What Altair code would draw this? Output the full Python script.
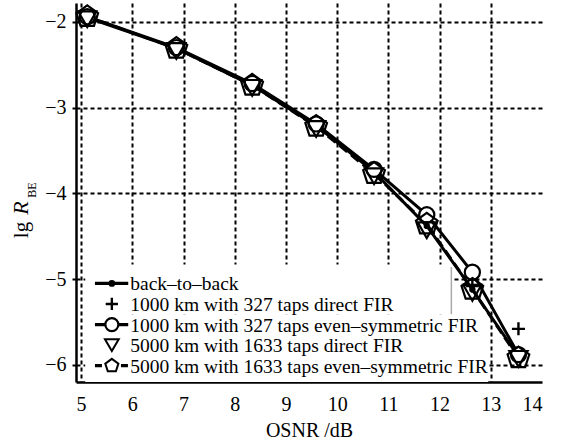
import altair as alt
import pandas as pd

# ---- data ----
osnr = [5.12, 6.86, 8.34, 9.59, 10.72, 11.75, 12.64, 13.54]
b2b = [-1.95, -2.31, -2.74, -3.21, -3.75, -4.38, -5.12, -5.90]
fir327_direct = [-1.95, -2.30, -2.73, -3.20, -3.73, -4.27, -5.08, -5.58]
fir327_sym = [-1.94, -2.30, -2.72, -3.19, -3.72, -4.25, -4.92, -5.88]
fir1633_direct = [-1.97, -2.34, -2.77, -3.25, -3.80, -4.43, -5.16, -5.93]
fir1633_sym = [-1.94, -2.31, -2.74, -3.22, -3.77, -4.36, -5.12, -5.92]

series_names = [
    "back–to–back",
    "1000 km with 327 taps direct FIR",
    "1000 km with 327 taps even–symmetric FIR",
    "5000 km with 1633 taps direct FIR",
    "5000 km with 1633 taps even–symmetric FIR",
]
x_ticks = [5, 6, 7, 8, 9, 10, 11, 12, 13, 14]
y_ticks = [-6, -5.5, -5, -4.5, -4, -3.5, -3, -2.5, -2]

# legend layout (data units)
legend_rows = [-5.05, -5.29, -5.53, -5.77, -6.01]
legend_sym_x = 5.6
legend_line_x = [5.27, 5.92]
legend_text_x = 5.96

FONT = "Liberation Serif"
PENTAGON = "M0,-1L0.951,-0.309L0.588,0.809L-0.588,0.809L-0.951,-0.309Z"
PLUS = "M-1,0L1,0M0,-1L0,1"

xs = alt.Scale(domain=[4.9, 14], nice=False, zero=False)
ys = alt.Scale(domain=[-6.2, -1.78], nice=False, zero=False)

def df_of(vals):
    return pd.DataFrame({"x": osnr, "y": vals})

X = alt.X("x:Q", scale=xs, axis=alt.Axis(
    values=x_ticks, title="OSNR /dB", grid=True, ticks=False,
    gridDash=[4, 3], gridColor="black", gridWidth=2,
    gridOpacity={"condition": {"test": "datum.value >= 14", "value": 0}, "value": 1},
    labelFontSize=20, labelPadding=12, titleFontSize=20, titlePadding=6,
    titleFontWeight="normal", domainWidth=2.5, domainColor="black",
    labelColor="black", titleColor="black", format="d"))
Y = alt.Y("y:Q", scale=ys, axis=alt.Axis(
    values=y_ticks, title=None, grid=True, gridDash=[4, 3], gridColor="black",
    gridWidth=2, tickSize=4, tickWidth=2, tickColor="black",
    labelExpr="datum.value % 1 === 0 ? datum.label : ''", format="d",
    labelFontSize=20, labelPadding=6, domainWidth=2.5, domainColor="black",
    labelColor="black"))

base_axes = alt.Chart(df_of(b2b)).mark_point(opacity=0).encode(x=X, y=Y)

# legend backdrop
box_df = pd.DataFrame({"x": [5.08, 5.08], "x2": [12.23, 12.95],
                       "y": [-4.83, -5.41], "y2": [-5.41, -6.2]})
box = alt.Chart(box_df).mark_rect(color="white").encode(
    x=alt.X("x:Q", scale=xs), x2="x2:Q", y=alt.Y("y:Q", scale=ys), y2="y2:Q")
edge_df = pd.DataFrame({"x": [12.23], "y": [-4.86], "y2": [-5.41]})
edge = alt.Chart(edge_df).mark_rule(color="#aaaaaa", strokeWidth=1.5).encode(
    x=alt.X("x:Q", scale=xs), y=alt.Y("y:Q", scale=ys), y2="y2:Q")

def enc(c):
    return c.encode(x=alt.X("x:Q", scale=xs), y=alt.Y("y:Q", scale=ys))

l_b2b = enc(alt.Chart(df_of(b2b)).mark_line(color="black", strokeWidth=3))
l_sym327 = enc(alt.Chart(df_of(fir327_sym)).mark_line(color="black", strokeWidth=3))
l_sym1633 = enc(alt.Chart(df_of(fir1633_sym)).mark_line(
    color="black", strokeWidth=3, strokeDash=[10, 5]))

p_b2b = enc(alt.Chart(df_of(b2b)).mark_point(
    shape="circle", filled=True, color="black", size=40, opacity=1))
p_d327 = enc(alt.Chart(df_of(fir327_direct)).mark_point(
    shape=PLUS, filled=False, color="black", size=170, strokeWidth=2.4, opacity=1))
p_s327 = enc(alt.Chart(df_of(fir327_sym)).mark_point(
    shape="circle", filled=False, color="black", size=230, strokeWidth=2.2,
    fill="white", fillOpacity=1, opacity=1))
p_d1633 = enc(alt.Chart(df_of(fir1633_direct)).mark_point(
    shape="triangle-down", filled=False, color="black", size=330, strokeWidth=2.2,
    opacity=1))
p_s1633 = enc(alt.Chart(df_of(fir1633_sym)).mark_point(
    shape=PENTAGON, filled=False, color="black", size=520, strokeWidth=2.2, opacity=1))

# ---- legend ----
leg_text_df = pd.DataFrame({"x": [legend_text_x] * 5, "y": legend_rows, "t": series_names})
leg_text = alt.Chart(leg_text_df).mark_text(
    align="left", baseline="middle", font=FONT, fontSize=19.5, color="black", dy=1).encode(
    x=alt.X("x:Q", scale=xs), y=alt.Y("y:Q", scale=ys), text="t:N")

def leg_line(row, dash=None):
    d = pd.DataFrame({"x": [legend_line_x[0]], "x2": [legend_line_x[1]], "y": [legend_rows[row]]})
    kw = dict(color="black", strokeWidth=3.2)
    if dash:
        kw["strokeDash"] = dash
    return alt.Chart(d).mark_rule(**kw).encode(
        x=alt.X("x:Q", scale=xs), x2="x2:Q", y=alt.Y("y:Q", scale=ys))

def leg_sym(row, **kw):
    d = pd.DataFrame({"x": [legend_sym_x], "y": [legend_rows[row]]})
    return alt.Chart(d).mark_point(color="black", opacity=1, **kw).encode(
        x=alt.X("x:Q", scale=xs), y=alt.Y("y:Q", scale=ys))

legend_layers = [
    leg_line(0), leg_sym(0, shape="circle", filled=True, size=45),
    leg_sym(1, shape=PLUS, filled=False, size=150, strokeWidth=2.4),
    leg_line(2), leg_sym(2, shape="circle", filled=False, size=170, strokeWidth=2.2,
                         fill="white", fillOpacity=1),
    leg_sym(3, shape="triangle-down", filled=False, size=190, strokeWidth=2),
    leg_line(4, dash=[7, 19]), leg_sym(4, shape=PENTAGON, filled=False, size=190,
                                       strokeWidth=2, fill="white", fillOpacity=1),
]

# ---- y title: lg R_BE ----
def title_piece(txt, px, py, size, style="normal"):
    d = pd.DataFrame({"t": [txt]})
    return alt.Chart(d).mark_text(
        angle=270, align="center", baseline="middle", font=FONT, fontSize=size,
        fontStyle=style, color="black").encode(
        text="t:N", x=alt.value(px), y=alt.value(py))

t_lg = title_piece("lg", -54, 227, 21)
t_R = title_piece("R", -55, 205, 22, "italic")
t_BE = title_piece("BE", -44, 187, 12)

chart = alt.layer(
    base_axes, box, edge, l_b2b, l_sym327, l_sym1633,
    p_b2b, p_d327, p_s327, p_d1633, p_s1633,
    *legend_layers, leg_text, t_lg, t_R, t_BE,
).properties(
    width=466, height=379,
    autosize=alt.AutoSizeParams(type="none"),
    padding={"left": 76, "top": 3, "right": 25, "bottom": 61},
    background="white",
).configure_view(stroke=None).configure_axis(
    labelFont=FONT, titleFont=FONT
).configure_text(font=FONT)

chart.save("out.html", embed_options={"renderer": "svg", "actions": False})
